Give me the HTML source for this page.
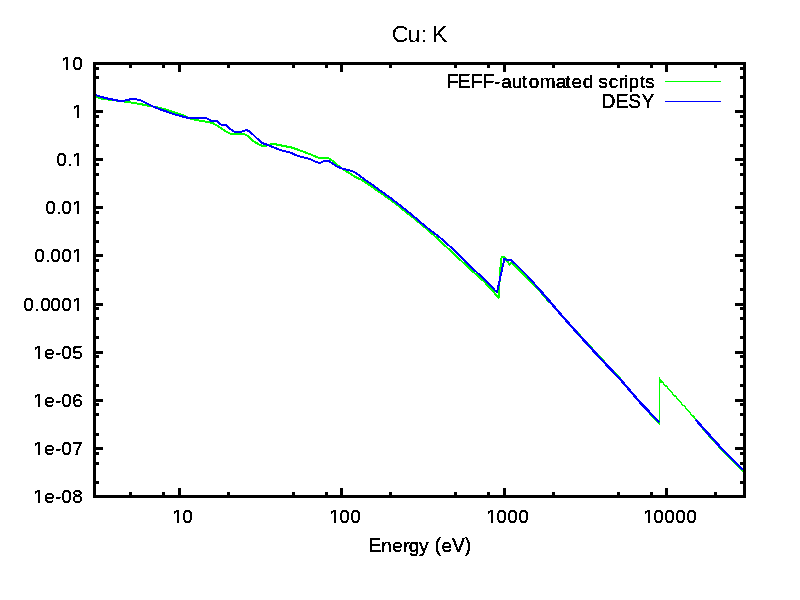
<!DOCTYPE html>
<html><head><meta charset="utf-8"><title>Cu: K</title>
<style>
html,body{margin:0;padding:0;background:#fff;}
body{width:800px;height:600px;overflow:hidden;font-family:"Liberation Sans",sans-serif;}
svg{display:block;position:absolute;left:0;top:0;}
text{font-family:"Liberation Sans",sans-serif;}
</style></head><body>
<svg width="800" height="600" viewBox="0 0 800 600">
<defs>
<filter id="alias" x="0" y="0" width="800" height="600" filterUnits="userSpaceOnUse" color-interpolation-filters="sRGB"><feComponentTransfer><feFuncA type="discrete" tableValues="0 1 1 1"/></feComponentTransfer></filter>
<filter id="alias50" x="0" y="0" width="800" height="600" filterUnits="userSpaceOnUse" color-interpolation-filters="sRGB"><feComponentTransfer><feFuncA type="discrete" tableValues="0 1"/></feComponentTransfer></filter>
</defs>
<rect x="0" y="0" width="800" height="600" fill="#fff"/>
<g fill="#000" shape-rendering="crispEdges">
<rect x="129" y="492" width="3" height="3"/>
<rect x="129" y="65" width="3" height="3"/>
<rect x="162" y="492" width="3" height="3"/>
<rect x="162" y="65" width="3" height="3"/>
<rect x="178" y="488" width="3" height="7"/>
<rect x="178" y="65" width="3" height="7"/>
<rect x="227" y="492" width="3" height="3"/>
<rect x="227" y="65" width="3" height="3"/>
<rect x="292" y="492" width="3" height="3"/>
<rect x="292" y="65" width="3" height="3"/>
<rect x="325" y="492" width="3" height="3"/>
<rect x="325" y="65" width="3" height="3"/>
<rect x="340" y="488" width="3" height="7"/>
<rect x="340" y="65" width="3" height="7"/>
<rect x="389" y="492" width="3" height="3"/>
<rect x="389" y="65" width="3" height="3"/>
<rect x="454" y="492" width="3" height="3"/>
<rect x="454" y="65" width="3" height="3"/>
<rect x="487" y="492" width="3" height="3"/>
<rect x="487" y="65" width="3" height="3"/>
<rect x="503" y="488" width="3" height="7"/>
<rect x="503" y="65" width="3" height="7"/>
<rect x="552" y="492" width="3" height="3"/>
<rect x="552" y="65" width="3" height="3"/>
<rect x="617" y="492" width="3" height="3"/>
<rect x="617" y="65" width="3" height="3"/>
<rect x="650" y="492" width="3" height="3"/>
<rect x="650" y="65" width="3" height="3"/>
<rect x="665" y="488" width="3" height="7"/>
<rect x="665" y="65" width="3" height="7"/>
<rect x="714" y="492" width="3" height="3"/>
<rect x="714" y="65" width="3" height="3"/>
<rect x="96" y="481" width="3" height="3"/>
<rect x="740" y="481" width="3" height="3"/>
<rect x="96" y="462" width="3" height="3"/>
<rect x="740" y="462" width="3" height="3"/>
<rect x="96" y="452" width="3" height="3"/>
<rect x="740" y="452" width="3" height="3"/>
<rect x="96" y="447" width="7" height="3"/>
<rect x="735" y="447" width="8" height="3"/>
<rect x="96" y="433" width="3" height="3"/>
<rect x="740" y="433" width="3" height="3"/>
<rect x="96" y="413" width="3" height="3"/>
<rect x="740" y="413" width="3" height="3"/>
<rect x="96" y="403" width="3" height="3"/>
<rect x="740" y="403" width="3" height="3"/>
<rect x="96" y="399" width="7" height="3"/>
<rect x="735" y="399" width="8" height="3"/>
<rect x="96" y="384" width="3" height="3"/>
<rect x="740" y="384" width="3" height="3"/>
<rect x="96" y="365" width="3" height="3"/>
<rect x="740" y="365" width="3" height="3"/>
<rect x="96" y="355" width="3" height="3"/>
<rect x="740" y="355" width="3" height="3"/>
<rect x="96" y="351" width="7" height="3"/>
<rect x="735" y="351" width="8" height="3"/>
<rect x="96" y="336" width="3" height="3"/>
<rect x="740" y="336" width="3" height="3"/>
<rect x="96" y="317" width="3" height="3"/>
<rect x="740" y="317" width="3" height="3"/>
<rect x="96" y="307" width="3" height="3"/>
<rect x="740" y="307" width="3" height="3"/>
<rect x="96" y="303" width="7" height="3"/>
<rect x="735" y="303" width="8" height="3"/>
<rect x="96" y="288" width="3" height="3"/>
<rect x="740" y="288" width="3" height="3"/>
<rect x="96" y="269" width="3" height="3"/>
<rect x="740" y="269" width="3" height="3"/>
<rect x="96" y="259" width="3" height="3"/>
<rect x="740" y="259" width="3" height="3"/>
<rect x="96" y="254" width="7" height="3"/>
<rect x="735" y="254" width="8" height="3"/>
<rect x="96" y="240" width="3" height="3"/>
<rect x="740" y="240" width="3" height="3"/>
<rect x="96" y="221" width="3" height="3"/>
<rect x="740" y="221" width="3" height="3"/>
<rect x="96" y="211" width="3" height="3"/>
<rect x="740" y="211" width="3" height="3"/>
<rect x="96" y="206" width="7" height="3"/>
<rect x="735" y="206" width="8" height="3"/>
<rect x="96" y="192" width="3" height="3"/>
<rect x="740" y="192" width="3" height="3"/>
<rect x="96" y="173" width="3" height="3"/>
<rect x="740" y="173" width="3" height="3"/>
<rect x="96" y="163" width="3" height="3"/>
<rect x="740" y="163" width="3" height="3"/>
<rect x="96" y="158" width="7" height="3"/>
<rect x="735" y="158" width="8" height="3"/>
<rect x="96" y="144" width="3" height="3"/>
<rect x="740" y="144" width="3" height="3"/>
<rect x="96" y="124" width="3" height="3"/>
<rect x="740" y="124" width="3" height="3"/>
<rect x="96" y="115" width="3" height="3"/>
<rect x="740" y="115" width="3" height="3"/>
<rect x="96" y="110" width="7" height="3"/>
<rect x="735" y="110" width="8" height="3"/>
<rect x="96" y="95" width="3" height="3"/>
<rect x="740" y="95" width="3" height="3"/>
<rect x="96" y="76" width="3" height="3"/>
<rect x="740" y="76" width="3" height="3"/>
<rect x="96" y="67" width="3" height="3"/>
<rect x="740" y="67" width="3" height="3"/>
</g>
<g fill="none" stroke-linejoin="round" stroke-linecap="butt" shape-rendering="crispEdges">
<path d="M94.5,96.5 L96.0,97.0 L103.0,99.0 L112.0,100.0 L120.0,101.0 L130.0,102.4 L140.0,104.0 L148.0,105.6 L156.0,107.0 L165.0,109.2 L175.0,112.5 L185.0,116.0 L191.0,118.8 L199.0,120.5 L207.0,121.8 L213.0,123.2 L219.0,126.8 L225.0,131.0 L230.0,133.5 L239.0,134.0 L244.0,134.0 L247.0,135.5 L254.0,141.6 L260.0,145.0 L265.0,146.6 L267.0,145.6 L271.0,144.0 L276.0,144.4 L284.0,146.0 L292.0,147.6 L300.0,150.4 L310.0,154.2 L319.0,158.0 L328.0,157.8 L332.0,160.5 L338.0,165.5 L344.0,170.0 L350.0,173.5 L355.0,176.8 L362.0,180.0 L368.0,184.0 L370.0,185.5 L380.0,192.5 L390.0,199.5 L400.0,207.0 L408.0,214.0 L410.0,215.0 L428.0,230.0 L440.0,241.0 L454.0,254.0 L470.0,269.0 L484.0,281.4 L491.0,289.0 L498.6,297.7 L500.2,270.0 L501.6,257.0 L504.4,257.0 L507.0,261.0 L509.6,264.5 L511.4,262.5 L513.0,264.5 L519.0,269.7 L528.3,279.0 L537.6,288.4 L549.9,303.0" stroke="#00ff00" stroke-width="2"/>
<path d="M549.9,303.0 L560.0,314.0 L575.0,329.5 L580.0,334.6 L600.0,356.4 L620.0,377.6 L632.0,392.5 L640.0,403.2 L650.0,414.3 L659.5,424.5 L659.5,377.0" stroke="#00ff00" stroke-width="1"/>
<path d="M659.6,379.0 L663.0,382.1 L664.2,384.8 L667.4,387.0 L668.7,389.7 L671.7,391.9 L673.1,394.6 L676.1,396.8 L677.6,399.5 L680.5,401.7 L682.0,404.4 L684.9,406.6 L686.5,409.3 L689.2,411.6 L690.9,414.1 L693.6,416.5 L695.4,419.0 L705.0,431.6 L715.0,442.6 L725.0,453.7 L735.0,463.6 L743.5,471.8" stroke="#00ff00" stroke-width="1.5"/>
<path d="M659.0,378.6 L663.0,383.0 L659.0,383.0Z" fill="#00ff00" stroke="none"/>
<path d="M94.5,94.4 L97.0,95.6 L105.0,98.0 L112.0,99.4 L119.0,100.8 L125.0,100.6 L130.0,99.4 L135.0,99.2 L140.0,100.0 L146.0,103.0 L152.0,106.0 L159.0,109.0 L165.0,111.0 L175.0,114.5 L185.0,117.2 L189.0,118.0 L198.0,118.2 L204.5,117.7 L208.0,118.8 L211.0,120.8 L217.0,121.0 L221.0,124.5 L226.0,124.8 L230.0,129.0 L235.0,132.0 L240.0,132.0 L243.0,131.2 L246.5,130.0 L249.0,131.2 L252.0,133.6 L257.0,138.4 L262.0,143.0 L268.0,145.0 L274.0,147.6 L282.0,150.6 L290.0,152.4 L298.0,156.0 L306.0,158.0 L310.0,159.0 L315.0,161.5 L320.0,163.2 L324.0,161.0 L328.0,160.6 L332.0,163.0 L337.0,166.5 L342.0,168.5 L348.0,170.0 L354.0,171.8 L360.0,176.0 L366.0,180.5 L372.0,184.5 L380.0,190.5 L390.0,197.5 L400.0,205.3 L410.0,213.3 L425.0,226.0 L430.0,230.0 L440.0,237.5 L454.0,250.0 L470.0,266.0 L484.0,279.0 L497.0,292.5 L500.3,277.3 L504.4,258.7 L507.3,260.0 L511.4,260.0 L527.1,275.6 L538.8,288.8" stroke="#0000ff" stroke-width="2"/>
<path d="M538.8,288.8 L549.9,301.6 L560.0,313.6 L580.0,336.0 L600.0,358.0 L620.0,379.0 L640.0,402.4 L659.4,422.4" stroke="#0000ff" stroke-width="2.4"/>
<path d="M695.6,419.6 L705.0,430.2 L715.0,441.2 L725.0,452.3 L735.0,462.2 L743.0,469.8" stroke="#0000ff" stroke-width="2.4"/>
</g>
<g fill="#000" shape-rendering="crispEdges">
<rect x="93" y="62" width="653" height="3"/>
<rect x="93" y="495" width="653" height="3"/>
<rect x="93" y="62" width="3" height="436"/>
<rect x="743" y="62" width="3" height="436"/>
</g>
<g shape-rendering="crispEdges">
<rect x="665" y="81" width="56" height="1" fill="#00ff00"/>
<rect x="665" y="101" width="56" height="1" fill="#0000ff"/>
</g>
<g font-family="Liberation Sans, sans-serif" fill="#000" filter="url(#alias)">
<text y="88"><tspan x="446.64 457.64 470.64 482.44" font-size="19.3">FEFF</tspan><tspan x="494.16 501.19 511.77 521.71 528.7 539.74 555.69 565.21 571.39 582.7 593.267 598.47 608.69 618.54 623.93 628.58 639.91 645.07" font-size="19">-automated scripts</tspan></text>
<text y="108"><tspan x="601.44 615.64 628.14 641.58" font-size="19.3">DESY</tspan></text>
<text y="552"><tspan x="368.44" font-size="19.3">E</tspan><tspan x="381.24 392.19 403.24 408.7 418.95 428.45" font-size="19">nergy </tspan><tspan x="434.82" font-size="19.3">(</tspan><tspan x="441.39" font-size="19">e</tspan><tspan x="451.92 464.69" font-size="19.3">V)</tspan></text>
<text y="503"><tspan x="33.3 44.3 55.3 61.3 72.3" font-size="19">1e-08</tspan></text>
<text y="455"><tspan x="33.3 44.3 55.3 61.3 72.3" font-size="19">1e-07</tspan></text>
<text y="407"><tspan x="33.3 44.3 55.3 61.3 72.3" font-size="19">1e-06</tspan></text>
<text y="359"><tspan x="33.3 44.3 55.3 61.3 72.3" font-size="19">1e-05</tspan></text>
<text y="311"><tspan x="23.3 34.3 40.3 50.3 61.3 72.3" font-size="19">0.0001</tspan></text>
<text y="262"><tspan x="34.3 45.3 50.3 61.3 72.3" font-size="19">0.001</tspan></text>
<text y="214"><tspan x="45.3 56.3 61.3 72.3" font-size="19">0.01</tspan></text>
<text y="166"><tspan x="56.3 67.3 72.3" font-size="19">0.1</tspan></text>
<text y="118"><tspan x="72.3" font-size="19">1</tspan></text>
<text y="70"><tspan x="61.3 72.3" font-size="19">10</tspan></text>
<text y="523"><tspan x="172.3 182.3" font-size="19">10</tspan></text>
<text y="523"><tspan x="329.3 339.3 350.3" font-size="19">100</tspan></text>
<text y="523"><tspan x="486.3 496.3 507.3 518.3" font-size="19">1000</tspan></text>
<text y="523"><tspan x="643.3 653.3 664.3 675.3 686.3" font-size="19">10000</tspan></text>
</g>
<g font-family="Liberation Sans, sans-serif" fill="#000" filter="url(#alias50)">
<text y="42" transform="rotate(0.03 420 42)"><tspan x="391.82 407.49 420.48 426.926 432.1" font-size="23.2">Cu: K</tspan></text>
</g>
<g fill="#fff" shape-rendering="crispEdges">
<rect x="33" y="501" width="5" height="3"/>
<rect x="40" y="501" width="4" height="3"/>
<rect x="33" y="453" width="5" height="3"/>
<rect x="40" y="453" width="4" height="3"/>
<rect x="33" y="405" width="5" height="3"/>
<rect x="40" y="405" width="4" height="3"/>
<rect x="33" y="357" width="5" height="3"/>
<rect x="40" y="357" width="4" height="3"/>
<rect x="72" y="309" width="5" height="3"/>
<rect x="79" y="309" width="4" height="3"/>
<rect x="72" y="260" width="5" height="3"/>
<rect x="79" y="260" width="4" height="3"/>
<rect x="72" y="212" width="5" height="3"/>
<rect x="79" y="212" width="4" height="3"/>
<rect x="72" y="164" width="5" height="3"/>
<rect x="79" y="164" width="4" height="3"/>
<rect x="72" y="116" width="5" height="3"/>
<rect x="79" y="116" width="4" height="3"/>
<rect x="61" y="68" width="5" height="3"/>
<rect x="68" y="68" width="4" height="3"/>
<rect x="172" y="521" width="5" height="3"/>
<rect x="179" y="521" width="4" height="3"/>
<rect x="329" y="521" width="5" height="3"/>
<rect x="336" y="521" width="4" height="3"/>
<rect x="486" y="521" width="5" height="3"/>
<rect x="493" y="521" width="4" height="3"/>
<rect x="643" y="521" width="5" height="3"/>
<rect x="650" y="521" width="4" height="3"/>
</g>
</svg>
</body></html>
